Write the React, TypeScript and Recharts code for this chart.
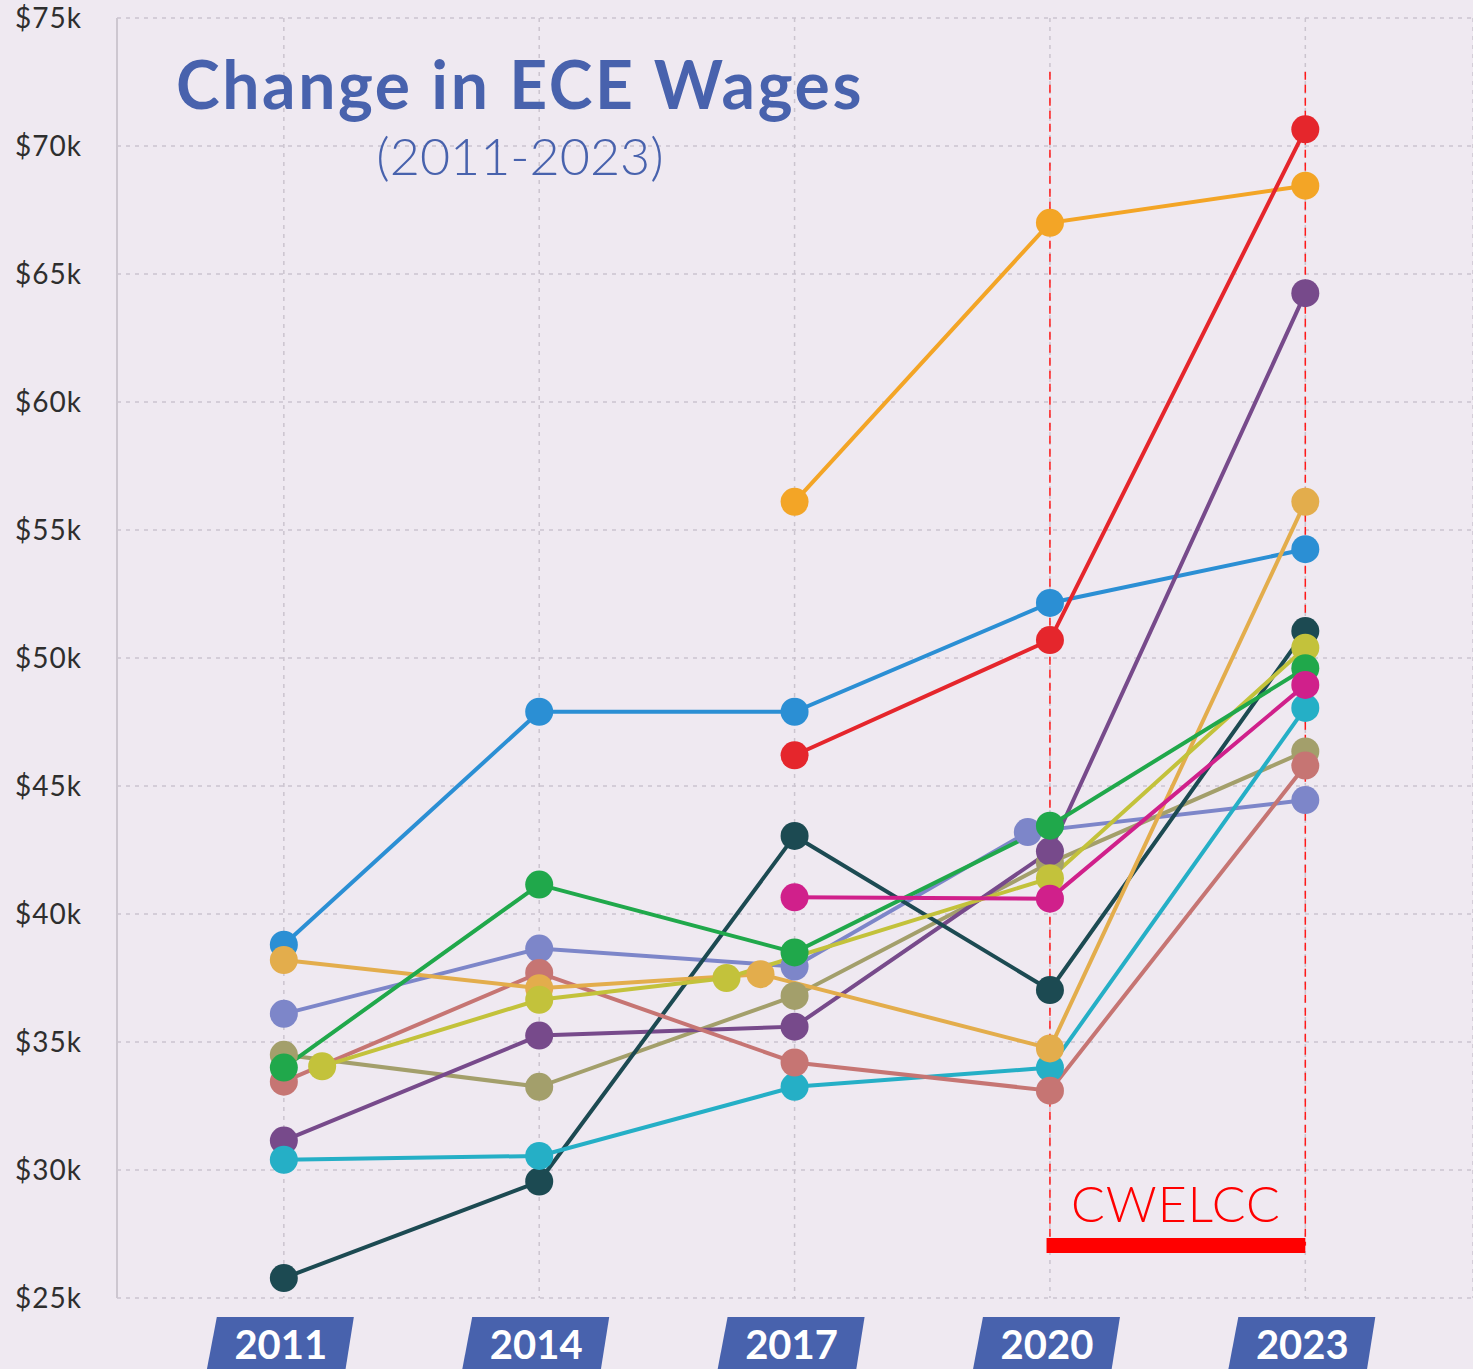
import React from 'react';
import { LineChart, Line, XAxis, YAxis, CartesianGrid, ReferenceLine } from 'recharts';

const YEAR_TICKS = [2011, 2014, 2017, 2020, 2023];
const WAGE_TICKS = [25000, 30000, 35000, 40000, 45000, 50000, 55000, 60000, 65000, 70000, 75000];

const blueYears = [2011, 2014, 2017, 2020, 2023];
const blueWages = [38800, 47900, 47900, 52150, 54250];
const orangeYears = [2017, 2020, 2023];
const orangeWages = [56100, 67000, 68450];
const redYears = [2017, 2020, 2023];
const redWages = [46200, 50700, 70650];
const lavenderYears = [2011, 2014, 2017, 2019.74, 2023];
const lavenderWages = [36100, 38650, 37950, 43200, 44450];
const oliveYears = [2011, 2014, 2017, 2020, 2023];
const oliveWages = [34500, 33250, 36800, 42000, 46350];
const purpleYears = [2011, 2014, 2017, 2020, 2023];
const purpleWages = [31150, 35250, 35600, 42450, 64250];
const navyYears = [2011, 2014, 2017, 2020, 2023];
const navyWages = [25780, 29550, 43050, 37030, 51050];
const cyanYears = [2011, 2014, 2017, 2020, 2023];
const cyanWages = [30400, 30550, 33250, 34000, 48050];
const salmonYears = [2011, 2014, 2017, 2020, 2023];
const salmonWages = [33450, 37700, 34200, 33100, 45800];
const tanYears = [2011, 2014, 2016.6, 2020, 2023];
const tanWages = [38200, 37100, 37650, 34750, 56100];
const limeYears = [2011.45, 2014, 2016.2, 2020, 2023];
const limeWages = [34050, 36650, 37500, 41400, 50400];
const greenYears = [2011, 2014, 2017, 2020, 2023];
const greenWages = [34000, 41150, 38500, 43450, 49600];
const magentaYears = [2017, 2020, 2023];
const magentaWages = [40650, 40600, 48950];

const CWELCC_START = 2019.96;
const CWELCC_END = 2023;
const CWELCC_BAR_LEVEL = 27050;
const DASH_TOP = 72900;

const build = (years: number[], wages: number[]) => years.map((year, i) => ({ year, wage: wages[i] }));

const SERIES = [
  { name: 'blue', color: '#2b8fd4', data: build(blueYears, blueWages) },
  { name: 'orange', color: '#f3a526', data: build(orangeYears, orangeWages) },
  { name: 'red', color: '#e5262c', data: build(redYears, redWages) },
  { name: 'lavender', color: '#7d86c9', data: build(lavenderYears, lavenderWages) },
  { name: 'olive', color: '#a39f6b', data: build(oliveYears, oliveWages) },
  { name: 'purple', color: '#774a8b', data: build(purpleYears, purpleWages) },
  { name: 'navy', color: '#1c4a52', data: build(navyYears, navyWages) },
  { name: 'cyan', color: '#25afc6', data: build(cyanYears, cyanWages) },
  { name: 'salmon', color: '#c67573', data: build(salmonYears, salmonWages) },
  { name: 'tan', color: '#e3ad4c', data: build(tanYears, tanWages) },
  { name: 'lime', color: '#c3c23b', data: build(limeYears, limeWages) },
  { name: 'green', color: '#20a84b', data: build(greenYears, greenWages) },
  { name: 'magenta', color: '#d0208b', data: build(magentaYears, magentaWages) },
];

const BLUE = '#4862ad';

const YearTick = (props: any) => {
  const { x, y, payload } = props;
  const top = y + 17;
  const bottom = y + 80;
  return (
    <g>
      <polygon
        points={`${x - 67},${top} ${x + 70},${top} ${x + 60},${bottom} ${x - 79},${bottom}`}
        fill={BLUE}
      />
      <text
        x={x - 3}
        y={top + 42}
        textAnchor="middle"
        fill="#ffffff"
        fontFamily="Lato, sans-serif"
        fontWeight={700}
        fontSize={40}
      >
        {payload.value}
      </text>
    </g>
  );
};

export default function App() {
  return (
    <div
      style={{
        position: 'absolute',
        left: 0,
        top: 0,
        width: 1473,
        height: 1369,
        background: '#efe9f1',
        overflow: 'hidden',
      }}
    >
      <LineChart width={1473} height={1369} margin={{ top: 18, right: 0, left: 0, bottom: 0 }}>
        <CartesianGrid stroke="#cbc4cf" strokeDasharray="4 5" strokeWidth={1.5} />
        <XAxis
          type="number"
          dataKey="year"
          domain={[2009.04, 2024.97]}
          ticks={YEAR_TICKS}
          allowDataOverflow
          axisLine={false}
          tickLine={false}
          tickSize={0}
          height={71}
          interval={0}
          tick={<YearTick />}
        />
        <YAxis
          type="number"
          dataKey="wage"
          domain={[25000, 75000]}
          ticks={WAGE_TICKS}
          width={117}
          axisLine={{ stroke: '#cdc7d0', strokeWidth: 2 }}
          tickLine={false}
          tickSize={0}
          tickMargin={35}
          interval={0}
          tickFormatter={(v: number) => `$${v / 1000}k`}
          tick={{ fill: '#2e2e2e', fontSize: 28, fontFamily: 'Lato, sans-serif', letterSpacing: 1 }}
        />
        {SERIES.map((s) => (
          <Line
            key={s.name}
            data={s.data}
            dataKey="wage"
            type="linear"
            stroke={s.color}
            strokeWidth={4}
            dot={{ r: 14, fill: s.color, stroke: s.color, strokeWidth: 0, fillOpacity: 1 }}
            activeDot={false}
            isAnimationActive={false}
          />
        ))}
        <ReferenceLine
          segment={[
            { x: 2020, y: DASH_TOP },
            { x: 2020, y: CWELCC_BAR_LEVEL },
          ]}
          stroke="#ff1a1a"
          strokeWidth={1.5}
          strokeDasharray="8 5"
          ifOverflow="visible"
        />
        <ReferenceLine
          segment={[
            { x: 2023, y: DASH_TOP },
            { x: 2023, y: CWELCC_BAR_LEVEL },
          ]}
          stroke="#ff1a1a"
          strokeWidth={1.5}
          strokeDasharray="8 5"
          ifOverflow="visible"
        />
        <ReferenceLine
          segment={[
            { x: CWELCC_START, y: CWELCC_BAR_LEVEL },
            { x: CWELCC_END, y: CWELCC_BAR_LEVEL },
          ]}
          stroke="#ff0000"
          strokeWidth={15}
          ifOverflow="visible"
          label={{
            value: 'CWELCC',
            position: 'top',
            offset: 24,
            fill: '#ff0000',
            fontSize: 50,
            fontFamily: 'Lato, sans-serif',
            fontWeight: 300,
            letterSpacing: 1,
          }}
        />
      </LineChart>
      <div
        style={{
          position: 'absolute',
          left: 0,
          top: 51,
          width: 1040,
          textAlign: 'center',
          fontFamily: 'Lato, sans-serif',
          fontWeight: 700,
          fontSize: 66,
          lineHeight: '66px',
          letterSpacing: 2.6,
          color: BLUE,
          whiteSpace: 'nowrap',
        }}
      >
        Change in ECE Wages
      </div>
      <div
        style={{
          position: 'absolute',
          left: 0,
          top: 129,
          width: 1040,
          textAlign: 'center',
          fontFamily: 'Lato, sans-serif',
          fontWeight: 300,
          fontSize: 52,
          lineHeight: '52px',
          color: BLUE,
          whiteSpace: 'nowrap',
        }}
      >
        (2011-2023)
      </div>
    </div>
  );
}
